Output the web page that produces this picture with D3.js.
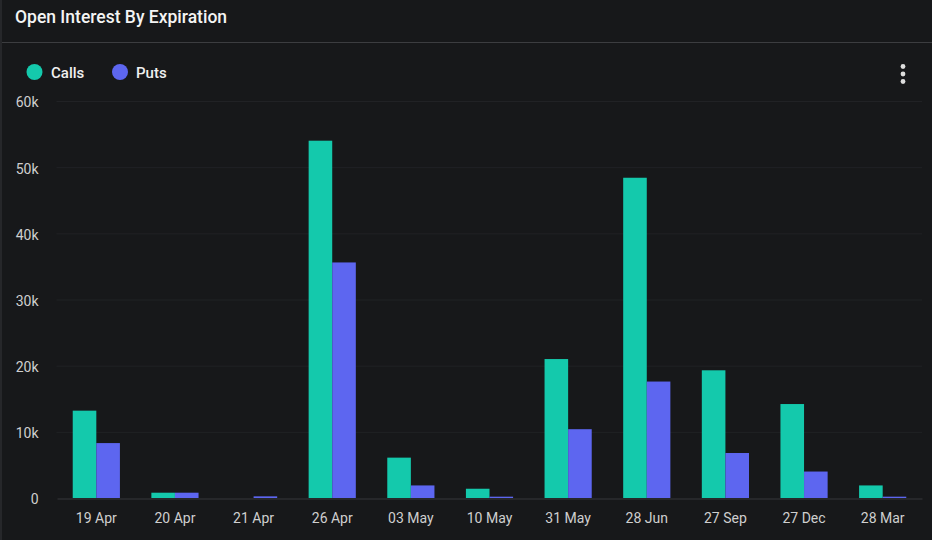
<!DOCTYPE html>
<html>
<head>
<meta charset="utf-8">
<script src="https://cdn.jsdelivr.net/npm/d3@7/dist/d3.min.js"></script>
<style>
  html, body { margin: 0; padding: 0; background: #17181a; overflow: hidden; }
  text { font-family: Roboto, sans-serif; }
</style>
</head>
<body>
<svg id="chart" width="932" height="540"></svg>
<script>
const categories = ['19 Apr', '20 Apr', '21 Apr', '26 Apr', '03 May', '10 May', '31 May', '28 Jun', '27 Sep', '27 Dec', '28 Mar'];
const calls = [13200, 800, 0, 54000, 6100, 1400, 21000, 48400, 19300, 14200, 1900];
const puts = [8300, 800, 250, 35600, 1900, 200, 10400, 17600, 6800, 4000, 200];
const seriesNames = ['Calls', 'Puts'];
const yTicks = [0, 10000, 20000, 30000, 40000, 50000, 60000];

const colors = { Calls: '#14c9ac', Puts: '#5d66f0' };
const svg = d3.select('#chart');

// Card edge and header rule
svg.append('rect').attr('width', 932).attr('height', 540).attr('fill', '#17181a');
svg.append('rect').attr('width', 2).attr('height', 540).attr('fill', '#26272a');
svg.append('line')
  .attr('x1', 2).attr('x2', 932).attr('y1', 42.5).attr('y2', 42.5)
  .attr('stroke', '#3c3d40');

svg.append('text')
  .attr('x', 15).attr('y', 23)
  .attr('font-size', 17.5).attr('font-weight', 500)
  .attr('fill', '#f4f4f4')
  .text('Open Interest By Expiration');

// Legend
const legendX = d3.scaleOrdinal().domain(seriesNames).range([34.5, 120]);
const legend = svg.append('g').selectAll('g').data(seriesNames).join('g')
  .attr('transform', d => `translate(${legendX(d)},72)`);
legend.append('circle').attr('r', 8).attr('fill', d => colors[d]);
legend.append('text')
  .attr('x', d => d === 'Calls' ? 16.5 : 16)
  .attr('y', 5.5)
  .attr('font-size', 15).attr('font-weight', 500)
  .attr('fill', '#f0f0f0')
  .text(d => d);

// Kebab menu
svg.append('g').selectAll('circle').data([-7.5, 0, 7.5]).join('circle')
  .attr('cx', 903).attr('cy', d => 74 + d).attr('r', 2.4).attr('fill', '#dedede');

// Scales
const x = d3.scaleBand().domain(categories).range([57, 922]).paddingInner(0.4).paddingOuter(0.2);
const xInner = d3.scaleBand().domain(seriesNames).range([0, x.bandwidth()]);
const y = d3.scaleLinear().domain([0, 60000]).range([498, 101]);

// Gridlines
svg.append('g').selectAll('line').data(yTicks.filter(d => d > 0)).join('line')
  .attr('x1', 56.5).attr('x2', 922)
  .attr('y1', d => y(d) + 0.5).attr('y2', d => y(d) + 0.5)
  .attr('stroke', '#212225');

// Bars
const series = { Calls: calls, Puts: puts };
const groups = svg.append('g').selectAll('g').data(seriesNames).join('g')
  .attr('fill', d => colors[d]);
groups.selectAll('rect').data(name => series[name].map((v, i) => ({ name, v, cat: categories[i] }))).join('rect')
  .attr('x', d => x(d.cat) + xInner(d.name))
  .attr('y', d => y(d.v))
  .attr('width', xInner.bandwidth())
  .attr('height', d => y(0) - y(d.v));

// Axes
const yAxis = d3.axisLeft(y)
  .tickValues(yTicks)
  .tickSize(0).tickPadding(0)
  .tickFormat(d => d === 0 ? '0' : d / 1000 + 'k');
const yG = svg.append('g').attr('transform', 'translate(38.5,1.5)').call(yAxis);
yG.select('.domain').remove();
yG.selectAll('text').attr('font-size', 14).attr('fill', '#cfcfcf').attr('font-family', 'Roboto, sans-serif');

const xAxis = d3.axisBottom(x).tickSize(0).tickPadding(0);
const xG = svg.append('g').attr('transform', 'translate(0,498.5)').call(xAxis);
xG.select('.domain').attr('stroke', '#36373a');
xG.selectAll('text').attr('y', 14.5).attr('font-size', 14).attr('fill', '#cfcfcf').attr('font-family', 'Roboto, sans-serif');
</script>
</body>
</html>
